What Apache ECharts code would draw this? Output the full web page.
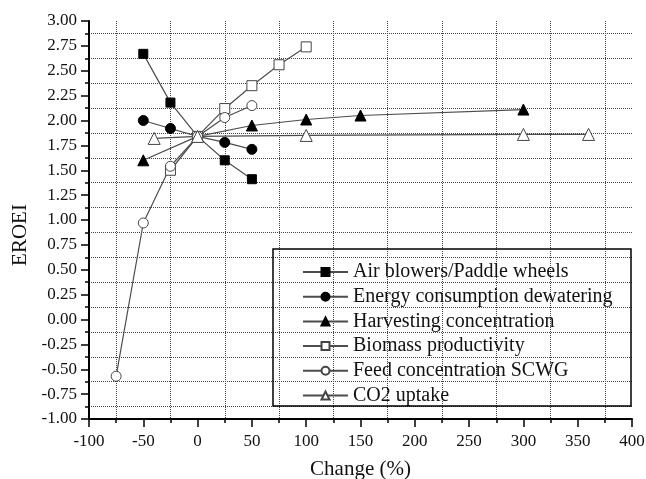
<!DOCTYPE html>
<html>
<head>
<meta charset="utf-8">
<script src="https://cdn.jsdelivr.net/npm/echarts@6/dist/echarts.min.js"></script>
<style>
  html, body { margin: 0; padding: 0; background: #fff; }
  #chart { width: 646px; height: 479px; }
</style>
</head>
<body>
<div id="chart"></div>
<script>
// Values: change (%) vs EROEI
const seriesNames = [
  'Air blowers/Paddle wheels',
  'Energy consumption dewatering',
  'Harvesting concentration',
  'Biomass productivity',
  'Feed concentration SCWG',
  'CO2 uptake'
]

const airX = [-50, -25, 0, 25, 50]
const airY = [2.67, 2.18, 1.84, 1.60, 1.41]

const dewaterX = [-50, -25, 0, 25, 50]
const dewaterY = [2.00, 1.92, 1.84, 1.78, 1.71]

const harvestX = [-50, 0, 50, 100, 150, 300]
const harvestY = [1.60, 1.84, 1.95, 2.01, 2.05, 2.11]

const biomassX = [-25, 0, 25, 50, 75, 100]
const biomassY = [1.50, 1.84, 2.12, 2.35, 2.56, 2.74]

const feedX = [-75, -50, -25, 0, 25, 50]
const feedY = [-0.57, 0.97, 1.54, 1.84, 2.03, 2.15]

const co2X = [-40, 0, 100, 300, 360]
const co2Y = [1.82, 1.84, 1.85, 1.86, 1.86]

const zip = (xs, ys) => xs.map((x, i) => [x, ys[i]])

const font = 'Liberation Serif, Times New Roman, serif'
const ink = '#111'
const lineGray = '#4d4d4d'

const filled = { color: '#000', borderColor: '#000', borderWidth: 1 }
const open = { color: '#fff', borderColor: '#444', borderWidth: 1 }

const makeSeries = (name, data, symbol, size, itemStyle) => ({
  name,
  type: 'line',
  data,
  symbol,
  symbolSize: size,
  showAllSymbol: true,
  lineStyle: { color: lineGray, width: 1.2 },
  itemStyle,
  emphasis: { disabled: true }
})

const chart = echarts.init(document.getElementById('chart'))

chart.setOption({
  animation: false,
  textStyle: { fontFamily: font, color: ink },
  grid: { left: 89, right: 14, top: 21, bottom: 60, containLabel: false, outerBoundsMode: 'none' },
  graphic: [{
    type: 'rect',
    z: 5,
    shape: { x: 273, y: 249, width: 358, height: 157 },
    style: { fill: 'none', stroke: '#000', lineWidth: 1.5 }
  }],
  legend: {
    orient: 'vertical',
    left: 302,
    top: 262,
    padding: 0,
    itemWidth: 45,
    itemHeight: 10,
    itemGap: 4.7,
    textStyle: { fontFamily: font, fontSize: 20, color: ink, lineHeight: 20 },
    data: seriesNames
  },
  xAxis: {
    type: 'value',
    min: -100,
    max: 400,
    interval: 50,
    name: 'Change (%)',
    nameLocation: 'middle',
    nameGap: 40,
    nameTextStyle: { fontFamily: font, fontSize: 21, color: ink },
    axisLine: { onZero: false, lineStyle: { color: '#000', width: 2 } },
    axisTick: { length: 8, lineStyle: { color: '#000', width: 1.5 } },
    minorTick: { show: true, splitNumber: 2, length: 4, lineStyle: { color: '#000', width: 1.5 } },
    axisLabel: { fontFamily: font, fontSize: 17, color: ink, margin: 14 },
    splitLine: { show: false },
    minorSplitLine: { show: true, lineStyle: { color: '#444', width: 1, type: 'dotted' } }
  },
  yAxis: {
    type: 'value',
    min: -1,
    max: 3,
    interval: 0.25,
    name: 'EROEI',
    nameLocation: 'middle',
    nameGap: 58,
    nameTextStyle: { fontFamily: font, fontSize: 21, color: ink, padding: [0, 30, 0, 0] },
    axisLine: { show: true, onZero: false, lineStyle: { color: '#000', width: 2 } },
    axisTick: { show: true, length: 8, lineStyle: { color: '#000', width: 1.5 } },
    minorTick: { show: true, splitNumber: 2, length: 4, lineStyle: { color: '#000', width: 1.5 } },
    axisLabel: {
      fontFamily: font, fontSize: 17, color: ink, margin: 12,
      formatter: (v) => v.toFixed(2)
    },
    splitLine: { show: false },
    minorSplitLine: { show: true, lineStyle: { color: '#444', width: 1, type: 'dotted' } }
  },
  series: [
    makeSeries(seriesNames[0], zip(airX, airY), 'rect', 9, filled),
    makeSeries(seriesNames[1], zip(dewaterX, dewaterY), 'circle', 10, filled),
    makeSeries(seriesNames[2], zip(harvestX, harvestY), 'triangle', 11, filled),
    makeSeries(seriesNames[3], zip(biomassX, biomassY), 'rect', 10, open),
    makeSeries(seriesNames[4], zip(feedX, feedY), 'circle', 10, open),
    makeSeries(seriesNames[5], zip(co2X, co2Y), 'triangle', 12, open)
  ]
})
</script>
</body>
</html>
